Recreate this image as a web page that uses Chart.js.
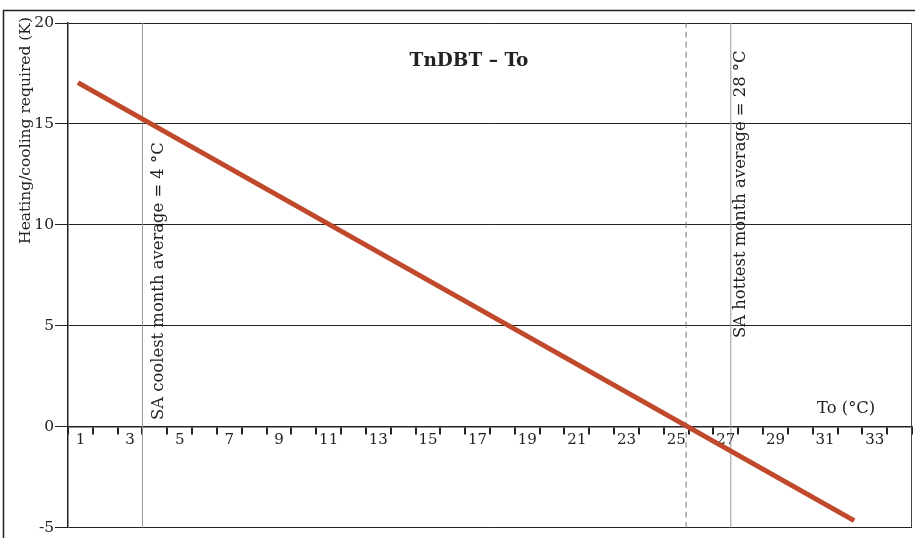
<!DOCTYPE html>
<html>
<head>
<meta charset="utf-8">
<script src="https://cdn.jsdelivr.net/npm/chart.js@4"></script>
<style>
  html, body { margin: 0; padding: 0; background: #fff; }
  #wrap { width: 915px; height: 538px; }
</style>
</head>
<body>
<div id="wrap"><canvas id="chart"></canvas></div>
<script>
// x categories (To in °C), only odd ones get a label
const tickLabels = ['1','2','3','4','5','6','7','8','9','10','11','12','13','14','15','16','17',
                    '18','19','20','21','22','23','24','25','26','27','28','29','30','31','32','33','34'];
// TnDBT - To line, end points
const lineX = [0.9, 32.17];
const lineY = [17.05, -4.65];
// vertical reference lines
const refX = [3.5, 25.4, 27.2];
const refLabels = ['SA coolest month average = 4 °C', '', 'SA hottest month average = 28 °C'];
const yMin = -5, yMax = 20, yStep = 5;

const FONT = "'DejaVu Serif', serif";
const INK = '#222';

function vline(x) {
    return [{ x: x, y: yMin }, { x: x, y: yMax }];
}

const decor = {
    id: 'decor',
    beforeDraw(chart) {
        const c = chart.ctx;
        c.save();
        c.strokeStyle = INK;
        c.lineWidth = 1.5;
        c.beginPath();
        c.moveTo(3.5, 538);
        c.lineTo(3.5, 10.5);
        c.lineTo(915, 10.5);
        c.stroke();
        c.restore();
    },
    afterDatasetsDraw(chart) {
        const c = chart.ctx;
        const a = chart.chartArea;
        const xs = chart.scales.x;
        c.save();
        // right edge of plot
        c.strokeStyle = '#444';
        c.lineWidth = 1;
        c.beginPath();
        c.moveTo(a.right - 0.5, a.top);
        c.lineTo(a.right - 0.5, a.bottom);
        c.stroke();

        c.fillStyle = INK;
        // title inside the plot
        c.font = 'bold 18.5px ' + FONT;
        c.textAlign = 'center';
        c.textBaseline = 'alphabetic';
        c.fillText('TnDBT – To', 469, 66);

        // axis label on the zero line
        c.font = '16.4px ' + FONT;
        c.textAlign = 'left';
        c.fillText('To (°C)', 817, 413);

        // y title, rotated, ending near the top
        c.save();
        c.font = '15.5px ' + FONT;
        c.translate(30, 17);
        c.rotate(-Math.PI / 2);
        c.textAlign = 'right';
        c.fillText('Heating/cooling required (K)', 0, 0);
        c.restore();

        // rotated labels next to the reference lines
        const offs = [21, 0, 14];
        const starts = [420, 0, 338];
        c.font = '16.4px ' + FONT;
        refLabels.forEach((t, i) => {
            if (!t) return;
            c.save();
            c.translate(xs.getPixelForValue(refX[i]) + offs[i], starts[i]);
            c.rotate(-Math.PI / 2);
            c.textAlign = 'left';
            c.fillText(t, 0, 0);
            c.restore();
        });
        c.restore();
    }
};

const ctx = document.getElementById('chart').getContext('2d');
new Chart(ctx, {
    type: 'line',
    data: {
        datasets: [
            {
                data: lineX.map((x, i) => ({ x: x, y: lineY[i] })),
                borderColor: '#c0482b',
                borderWidth: 5,
                pointRadius: 0,
                xAxisID: 'x', yAxisID: 'y'
            },
            {
                data: vline(refX[0]),
                borderColor: '#9a9a9a',
                borderWidth: 1,
                pointRadius: 0,
                xAxisID: 'x', yAxisID: 'y'
            },
            {
                data: vline(refX[1]),
                borderColor: '#777',
                borderWidth: 1,
                borderDash: [6, 4],
                pointRadius: 0,
                xAxisID: 'x', yAxisID: 'y'
            },
            {
                data: vline(refX[2]),
                borderColor: '#9a9a9a',
                borderWidth: 1,
                pointRadius: 0,
                xAxisID: 'x', yAxisID: 'y'
            }
        ]
    },
    options: {
        responsive: true,
        maintainAspectRatio: false,
        animation: false,
        layout: { padding: { top: 23, right: 3, bottom: 10, left: 0 } },
        plugins: {
            legend: { display: false },
            tooltip: { enabled: false }
        },
        scales: {
            x: {
                type: 'linear',
                min: 0.5,
                max: 34.5,
                display: false
            },
            xc: {
                type: 'category',
                labels: tickLabels,
                position: { y: 0 },
                offset: true,
                grid: { offset: true, drawOnChartArea: false, tickLength: 7, lineWidth: 2, color: INK },
                border: { display: true, color: INK, width: 1.5 },
                ticks: {
                    autoSkip: false,
                    maxRotation: 0,
                    padding: -3,
                    color: INK,
                    font: { family: FONT, size: 15 },
                    callback: function(v, i) { return i % 2 === 0 ? this.getLabelForValue(v) : ''; }
                }
            },
            y: {
                type: 'linear',
                min: yMin,
                max: yMax,
                afterFit: function(s) { s.width = 68; },
                grid: { color: INK, lineWidth: 1, tickLength: 13 },
                border: { display: true, color: INK, width: 1.5 },
                ticks: {
                    stepSize: yStep,
                    padding: 1,
                    color: INK,
                    font: { family: FONT, size: 15.5 }
                }
            }
        }
    },
    plugins: [decor]
});
</script>
</body>
</html>
